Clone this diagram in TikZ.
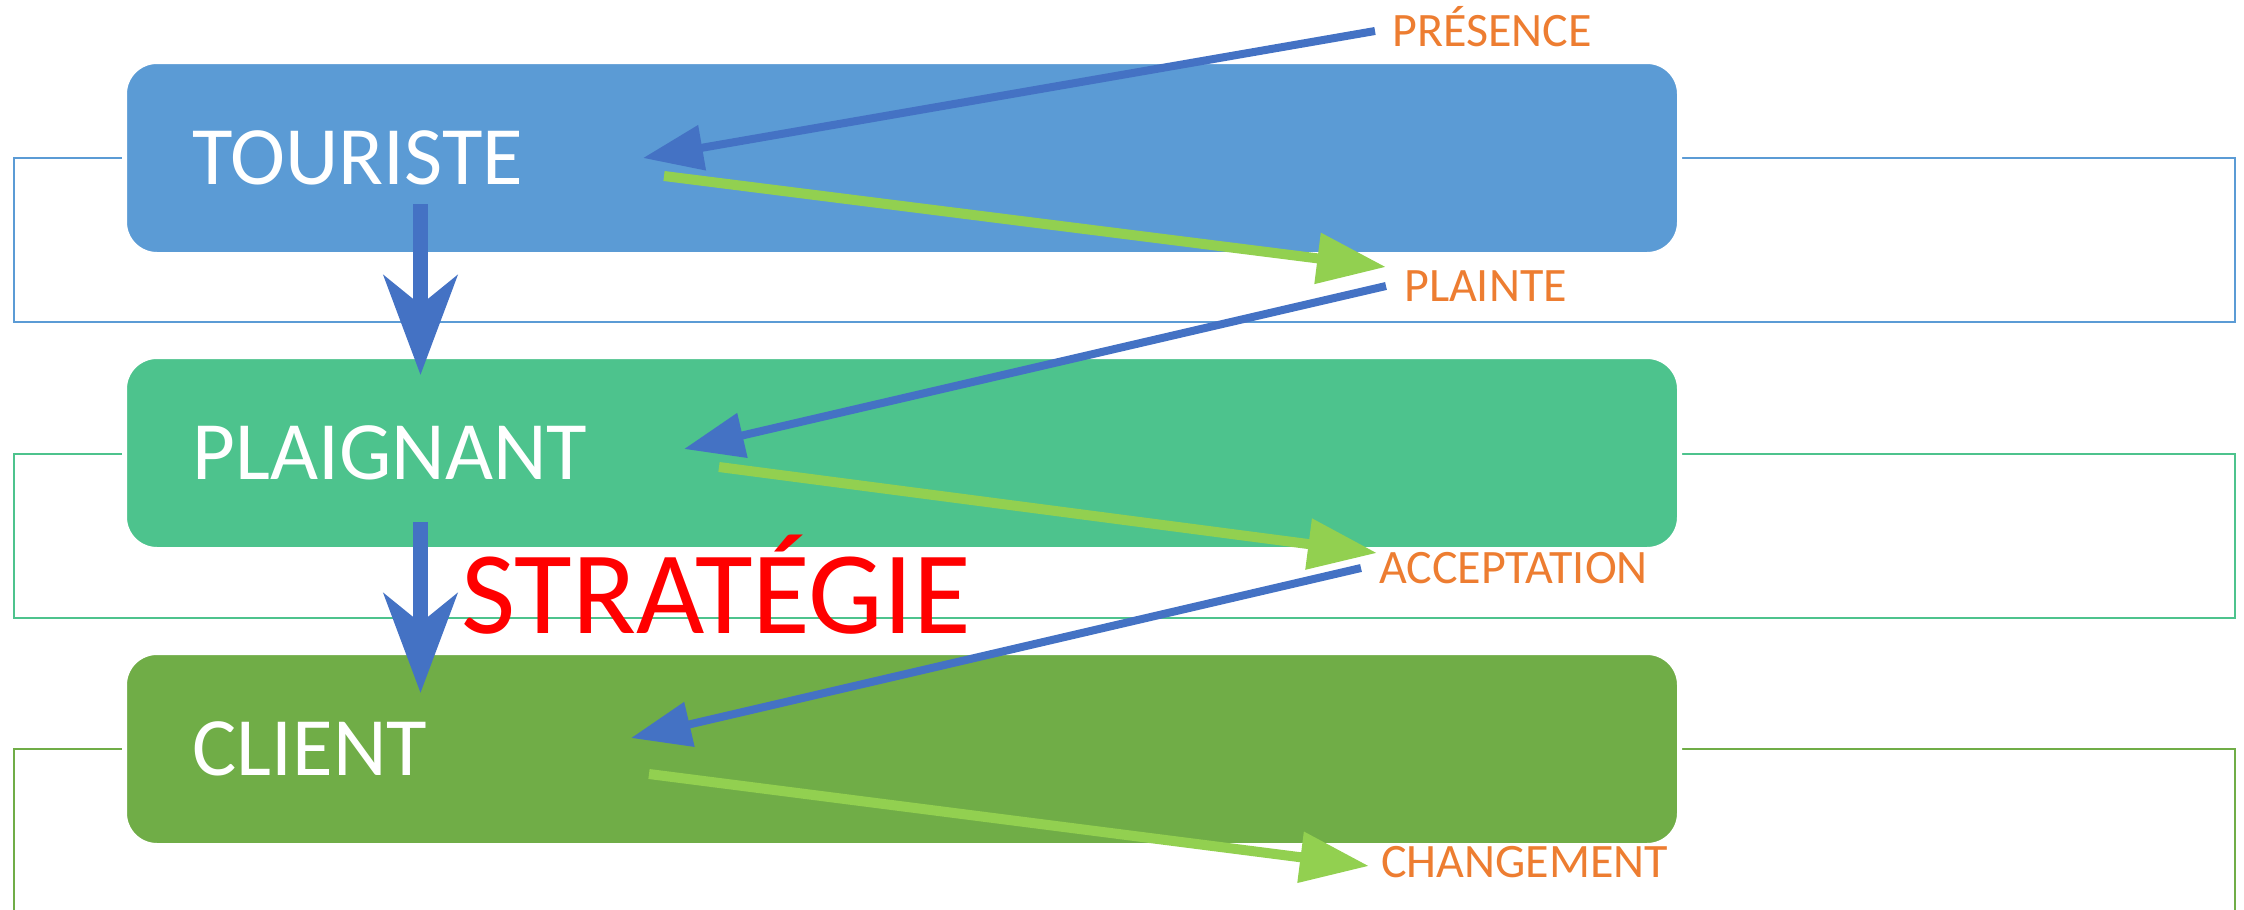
\documentclass[tikz,border=0pt]{standalone}
\usepackage{fontspec}
\setmainfont{Carlito}
\usetikzlibrary{arrows.meta}
\definecolor{cBlue}{HTML}{5B9BD5}
\definecolor{cTeal}{HTML}{4DC38D}
\definecolor{cGreen}{HTML}{70AD47}
\definecolor{aBlue}{HTML}{4472C4}
\definecolor{aGreen}{HTML}{92D050}
\definecolor{lOrange}{HTML}{ED7D31}
\definecolor{sRed}{HTML}{FF0000}
\begin{document}
\begin{tikzpicture}[x=1pt,y=-1pt,
  box/.style={draw=white, line width=5pt, rounded corners=32.5pt, minimum width=1555pt, minimum height=193pt, text width=1419pt, inner xsep=68pt, inner ysep=0pt, align=left, text=white, font=\fontsize{83}{99}\selectfont},
  frame/.style={line width=2.5pt},
  lab/.style={anchor=base west, inner sep=0pt, text=lOrange, font=\fontsize{48}{57}\selectfont},
  barrow/.style={draw=aBlue, line width=8pt, -{Triangle[length=60pt,width=44pt]}},
  garrow/.style={draw=aGreen, line width=10pt, -{Triangle[length=69pt,width=49pt]}},
  varrow/.style={draw=aBlue, line width=15.7pt, -{Stealth[length=99pt,width=73pt,inset=29pt]}}
]
\useasboundingbox (0,0) rectangle (2244,910);
\clip (0,0) rectangle (2244,910);
% frames
\draw[frame, cBlue] (14,158) rectangle (2235,322);
\draw[frame, cTeal] (14,454) rectangle (2235,618);
\draw[frame, cGreen] (14,749) rectangle (2235,913);
% boxes
\node[box, fill=cBlue] (tour) at (902,158) {TOURISTE};
\node[box, fill=cTeal] (plai) at (902,453) {PLAIGNANT};
\node[box, fill=cGreen] (cli) at (902,749) {CLIENT};
% labels
\node[lab] (pres) at (1392,46) {PRÉSENCE};
\node[lab] (plte) at (1404,301) {PLAINTE};
\node[lab] (acc) at (1379,583) {ACCEPTATION};
\node[lab] (chg) at (1381,877) {CHANGEMENT};
\node[anchor=base, inner sep=0pt, text=sRed, font=\fontsize{118}{134}\selectfont] (strat) at (716,633) {STRATÉGIE};
% connector end points
\coordinate (a1s) at (1375,31);  \coordinate (a1e) at (643,158);
\coordinate (a2s) at (664,176);  \coordinate (a2e) at (1386,267);
\coordinate (a3s) at (1386,286); \coordinate (a3e) at (684,449);
\coordinate (a4s) at (719,467);  \coordinate (a4e) at (1377,553);
\coordinate (a5s) at (1361,568); \coordinate (a5e) at (631,738);
\coordinate (a6s) at (649,774);  \coordinate (a6e) at (1369,866);
\coordinate (v1s) at (420.5,204); \coordinate (v1e) at (420.5,375);
\coordinate (v2s) at (420.5,522); \coordinate (v2e) at (420.5,693);
% arrows
\draw[barrow] (a1s) -- (a1e);
\draw[garrow] (a2s) -- (a2e);
\draw[barrow] (a3s) -- (a3e);
\draw[garrow] (a4s) -- (a4e);
\draw[barrow] (a5s) -- (a5e);
\draw[garrow] (a6s) -- (a6e);
\draw[varrow] (v1s) -- (v1e);
\draw[varrow] (v2s) -- (v2e);
\end{tikzpicture}
\end{document}
